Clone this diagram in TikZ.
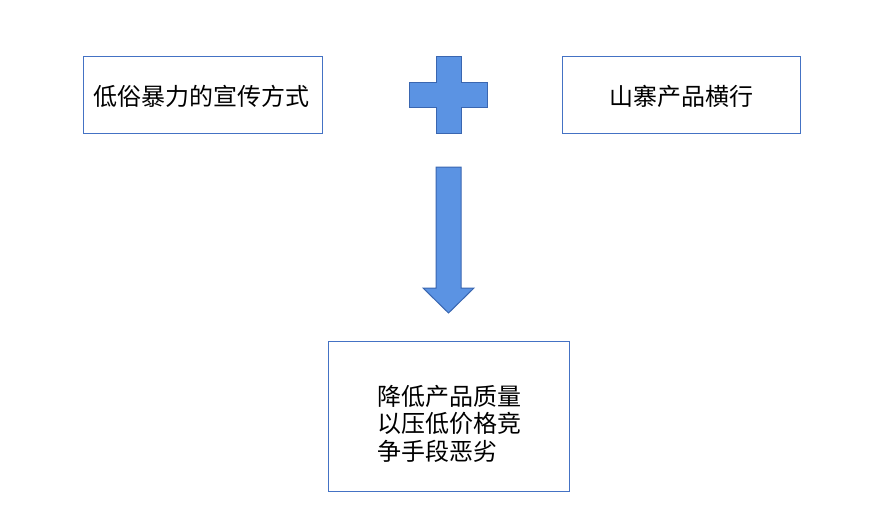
\documentclass[tikz,border=0pt]{standalone}
\usepackage{fontspec}
\newfontfamily\cjk{Noto Sans CJK SC}
\definecolor{boxline}{HTML}{4472C4}
\definecolor{shapefill}{HTML}{5B93E3}
\definecolor{shapeline}{HTML}{3A66B0}
\begin{document}
\begin{tikzpicture}[x=1pt,y=-1pt,
  txtbox/.style={draw=boxline, line width=1pt, fill=white},
  lbl/.style={font=\cjk\fontsize{24}{27.5}\selectfont, text=black, inner sep=0pt},
  blueshape/.style={fill=shapefill, draw=shapeline, line width=1pt, line join=miter}]
\useasboundingbox (0,0) rectangle (875,532);
\draw[txtbox] (83,57) rectangle (322,134);
\node[lbl] (t1) at (201.5,96) {低俗暴力的宣传方式};
\draw[txtbox] (562,57) rectangle (800,134);
\node[lbl] (t2) at (681,96) {山寨产品横行};
% plus sign
\draw[blueshape] (436,57) -- (461,57) -- (461,83) -- (487,83) -- (487,108) -- (461,108) -- (461,134) -- (436,134) -- (436,108) -- (409,108) -- (409,83) -- (436,83) -- cycle;
% down arrow
\draw[blueshape] (436,167) -- (461,167) -- (461,288) -- (474,288) -- (448.5,313) -- (423,288) -- (436,288) -- cycle;
\draw[txtbox] (328,341) rectangle (569,491);
\node[lbl, align=left, anchor=north west] (t3) at (377,385) {降低产品质量\\以压低价格竞\\争手段恶劣};
\end{tikzpicture}
\end{document}
